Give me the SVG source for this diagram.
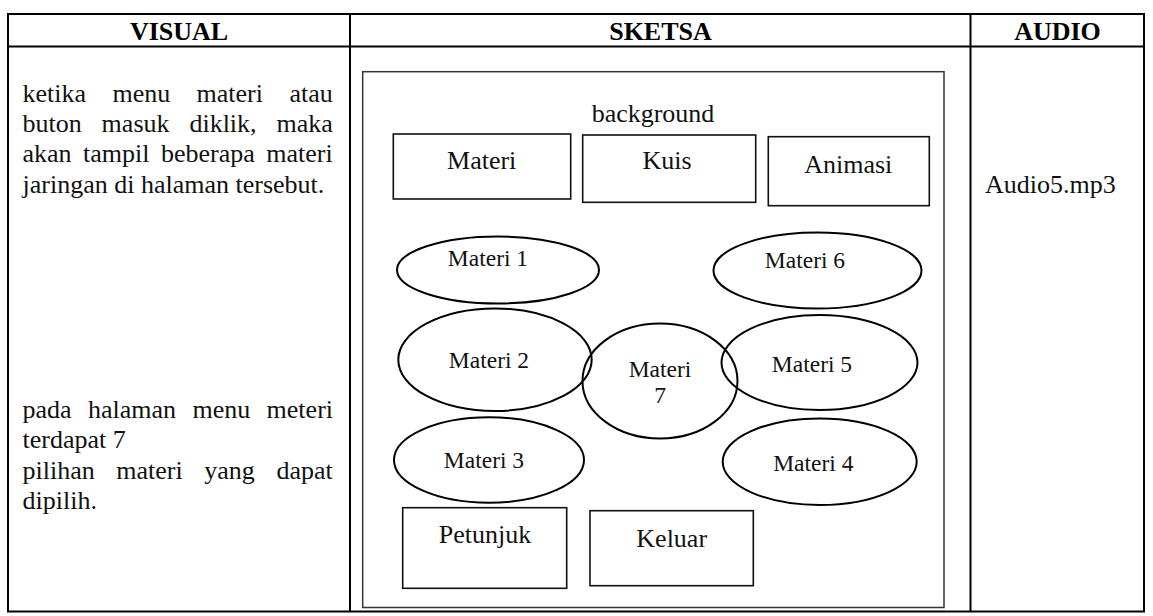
<svg xmlns="http://www.w3.org/2000/svg" width="1153" height="616" viewBox="0 0 1153 616">
<style>
.t{font-family:"Liberation Serif","Times New Roman",serif;font-size:26px;fill:#111}
.h{font-family:"Liberation Serif","Times New Roman",serif;font-size:26px;font-weight:bold;fill:#000;text-anchor:middle}
.s{font-family:"Liberation Serif","Times New Roman",serif;font-size:23.5px;fill:#111;text-anchor:middle}
.m{text-anchor:middle}
.grid{fill:none;stroke:#000;stroke-width:2}
.frame{fill:none;stroke:#333;stroke-width:1.5}
.box{fill:none;stroke:#111;stroke-width:1.6}
.ell{fill:none;stroke:#000;stroke-width:2}
</style>
<rect width="1153" height="616" fill="#fff"/>
<g id="table">
<rect class="grid" x="8" y="14" width="1136" height="597.5"/>
<line class="grid" x1="8" y1="46.5" x2="1144" y2="46.5"/>
<line class="grid" x1="350" y1="14" x2="350" y2="611.5"/>
<line class="grid" x1="970.5" y1="14" x2="970.5" y2="611.5"/>
<text class="h" x="179" y="40">VISUAL</text>
<text class="h" x="660.5" y="40">SKETSA</text>
<text class="h" x="1057.5" y="40">AUDIO</text>
</g>
<g id="visual-text">
<text class="t" x="22.5" y="101.7" word-spacing="19.9">ketika menu materi atau</text>
<text class="t" x="22.5" y="132" word-spacing="13.4">buton masuk diklik, maka</text>
<text class="t" x="22.5" y="162.3" word-spacing="5">akan tampil beberapa materi</text>
<text class="t" x="22.5" y="192.6">jaringan di halaman tersebut.</text>
<text class="t" x="22.5" y="418" word-spacing="9.9">pada halaman menu meteri</text>
<text class="t" x="22.5" y="448.3">terdapat 7</text>
<text class="t" x="22.5" y="478.6" word-spacing="15.1">pilihan materi yang dapat</text>
<text class="t" x="22.5" y="508.9">dipilih.</text>
</g>
<g id="audio">
<text class="t" x="985" y="193.3">Audio5.mp3</text>
</g>
<g id="sketch-frame">
<rect class="frame" x="362.7" y="71.7" width="581.3" height="535.8"/>
<text class="t m" x="653" y="121.7">background</text>
</g>
<g id="btn-materi">
<rect class="box" x="393.3" y="134" width="177.4" height="65"/>
<text class="t m" x="481.7" y="169.3">Materi</text>
</g>
<g id="btn-kuis">
<rect class="box" x="582.7" y="135" width="173" height="67.3"/>
<text class="t m" x="667" y="169">Kuis</text>
</g>
<g id="btn-animasi">
<rect class="box" x="768.3" y="136.7" width="161" height="69"/>
<text class="t m" x="848.3" y="172.7">Animasi</text>
</g>
<g id="materi-1">
<ellipse class="ell" cx="498" cy="270" rx="101" ry="33.5"/>
<text class="s" x="488" y="265.7">Materi 1</text>
</g>
<g id="materi-6">
<ellipse class="ell" cx="817.5" cy="270.5" rx="104" ry="38"/>
<text class="s" x="805" y="268.3">Materi 6</text>
</g>
<g id="materi-2">
<ellipse class="ell" cx="495" cy="359.7" rx="96.7" ry="51.3"/>
<text class="s" x="489" y="367.7">Materi 2</text>
</g>
<g id="materi-7">
<ellipse class="ell" cx="660" cy="381" rx="77.5" ry="57.5"/>
<text class="s" x="660" y="376.7">Materi</text>
<text class="s" x="660" y="403.3">7</text>
</g>
<g id="materi-5">
<ellipse class="ell" cx="819.5" cy="362.5" rx="98" ry="47.5"/>
<text class="s" x="812" y="371.7">Materi 5</text>
</g>
<g id="materi-3">
<ellipse class="ell" cx="489" cy="460" rx="95" ry="42.7"/>
<text class="s" x="484" y="468.3">Materi 3</text>
</g>
<g id="materi-4">
<ellipse class="ell" cx="819.7" cy="461.7" rx="97" ry="43.3"/>
<text class="s" x="813.3" y="470.7">Materi 4</text>
</g>
<g id="btn-petunjuk">
<rect class="box" x="402.7" y="507.7" width="164" height="80.6"/>
<text class="t m" x="485" y="543.3">Petunjuk</text>
</g>
<g id="btn-keluar">
<rect class="box" x="590" y="510.7" width="163.3" height="75"/>
<text class="t m" x="671.7" y="546.7">Keluar</text>
</g>
<g id="connectors"/>
</svg>
